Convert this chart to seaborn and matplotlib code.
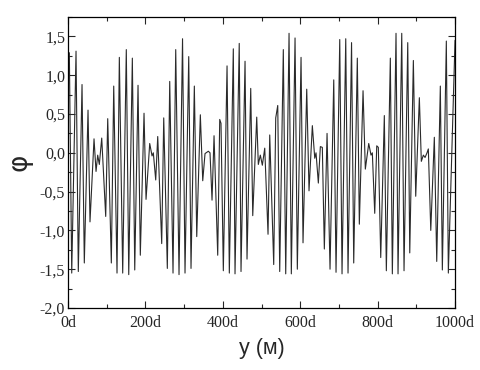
import matplotlib
matplotlib.use("Agg")
import matplotlib.pyplot as plt
import seaborn as sns
import pandas as pd
from matplotlib.ticker import MultipleLocator, FuncFormatter

# distance y (in units of d) and field phi (local extrema)
y_d = [0, 3.4, 9.6, 20.7, 26.6, 36.2, 42.1, 51.7, 56.8, 67.2, 72.4, 76.7, 80.9, 87.1,
       97.4, 102.6, 111.9, 118.1, 126.6, 132.6, 141.3, 150.6, 156.9, 166.2, 172.4,
       180.9, 186.8, 196.4, 201.6, 211.1, 217.1, 220.4, 226.6, 231.8, 242.1, 247.3,
       256.6, 262.8, 271.3, 278.3, 286.8, 295.9, 302.3, 311.9, 317.8, 326.4, 332.6,
       341.9, 348.1, 354.0, 362.5, 366.9, 372.1, 377.3, 386.8, 392.0, 395.3, 401.3,
       410.9, 416.8, 427.1, 431.5, 442.4, 447.0, 457.4, 462.5, 472.1, 477.3, 487.6,
       491.7, 496.9, 502.1, 508.3, 516.8, 521.2, 531.5, 536.7, 541.9, 547.0, 556.3,
       562.5, 571.1, 577.0, 586.6, 592.5, 602.1, 607.2, 616.8, 622.7, 631.3, 637.5,
       640.8, 646.8, 652.0, 657.1, 662.3, 669.3, 677.0, 686.6, 692.5, 702.1, 708.0,
       717.6, 723.5, 732.6, 738.2, 747.5, 752.7, 762.3, 768.2, 777.0, 782.9, 786.3,
       792.5, 797.7, 801.8, 808.0, 817.3, 822.5, 832.8, 838.0, 847.5, 852.7, 862.3,
       868.2, 877.8, 883.0, 892.3, 898.4, 907.8, 912.9, 918.1, 922.5, 927.6, 931.0,
       937.3, 946.5, 952.7, 962.0, 967.2, 977.5, 982.7, 1000]
phi = [1.0, 1.29, -1.55, 1.31, -1.53, 0.88, -1.42, 0.55, -0.89, 0.18, -0.24, -0.03, -0.15, 0.19,
       -0.82, 0.44, -1.42, 0.86, -1.55, 1.23, -1.55, 1.33, -1.57, 1.22, -1.51,
       0.87, -1.32, 0.51, -0.60, 0.12, -0.04, 0.0, -0.35, 0.21, -1.17, 0.45,
       -1.49, 0.92, -1.55, 1.33, -1.57, 1.47, -1.55, 1.24, -1.49, 0.86, -1.08,
       0.49, -0.36, -0.01, 0.02, 0.0, -0.61, 0.22, -1.32, 0.43, 0.38, -1.52,
       1.12, -1.55, 1.34, -1.56, 1.41, -1.53, 1.18, -1.37, 0.83, -0.81, 0.46,
       -0.15, -0.03, -0.16, 0.06, -1.05, 0.23, -1.44, 0.45, 0.61, -1.53, 1.33,
       -1.56, 1.54, -1.56, 1.48, -1.50, 1.23, -1.16, 0.82, -0.49, 0.35, -0.07,
       0.0, -0.39, 0.08, 0.07, -1.24, 0.25, -1.50, 0.94, -1.54, 1.46, -1.56,
       1.47, -1.55, 1.42, -1.42, 1.22, -0.92, 0.80, -0.21, 0.12, -0.03, 0.0,
       -0.78, 0.09, 0.07, -1.35, 0.48, -1.52, 1.22, -1.56, 1.54, -1.56, 1.54,
       -1.52, 1.42, -1.29, 1.19, -0.56, 0.71, -0.11, -0.03, -0.06, 0.0, 0.05,
       -1.0, 0.20, -1.40, 0.86, -1.51, 1.44, -1.55, 1.45]

x_ticks = [0, 200, 400, 600, 800, 1000]
x_tick_labels = ["0d", "200d", "400d", "600d", "800d", "1000d"]

sns.set_style("ticks")
plt.rcParams["axes.unicode_minus"] = False

df = pd.DataFrame({"y": y_d, "phi": phi})

fig = plt.figure(figsize=(4.8, 3.7), dpi=100)
ax = fig.add_axes([0.1417, 0.1676, 0.8063, 0.7864])
sns.lineplot(data=df, x="y", y="phi", ax=ax, color="#2a2a2a", linewidth=0.8,
             sort=False, estimator=None)

ax.set_xlim(0, 1000)
ax.set_ylim(-2.0, 1.75)
ax.xaxis.set_major_locator(MultipleLocator(200))
ax.xaxis.set_minor_locator(MultipleLocator(100))
ax.yaxis.set_major_locator(MultipleLocator(0.5))
ax.yaxis.set_minor_locator(MultipleLocator(0.25))
ax.set_xticks(x_ticks)
ax.set_xticklabels(x_tick_labels, family="Liberation Serif", fontsize=11.5)
ax.yaxis.set_major_formatter(FuncFormatter(lambda v, p: f"{v:.1f}".replace(".", ",")))
for lab in ax.get_yticklabels():
    lab.set_family("Liberation Serif")
    lab.set_fontsize(11.5)
ax.tick_params(which="both", direction="in", top=True, right=True, width=0.8)
ax.tick_params(axis="x", which="both", pad=5)
ax.tick_params(axis="y", which="both", pad=2)
ax.tick_params(which="major", length=5)
ax.tick_params(which="minor", length=3)
for s in ax.spines.values():
    s.set_linewidth(0.9)
    s.set_color("black")

ax.set_xlabel("y (м)", family="Liberation Sans", fontsize=15.5, labelpad=5)
ax.set_ylabel("φ", family="DejaVu Sans", fontsize=19, labelpad=5)

fig.savefig("out.png", dpi=100)
